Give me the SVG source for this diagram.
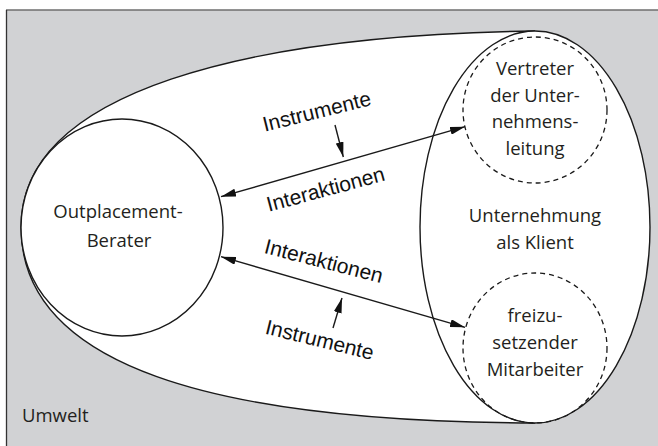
<svg xmlns="http://www.w3.org/2000/svg" width="658" height="446" viewBox="0 0 658 446">
<style>
.ln{fill:none;stroke:#1a1a1a;stroke-width:1.4}
.wf{fill:#ffffff;stroke:#1a1a1a;stroke-width:1.4}
.ds{fill:none;stroke:#1a1a1a;stroke-width:1.3;stroke-dasharray:5 4}
.nl{font-family:"Open Sans","Liberation Sans",sans-serif;font-size:18.5px;fill:#231f20;text-anchor:middle}
.al{font-family:"Liberation Sans",Arial,sans-serif;font-size:21px;fill:#111;text-anchor:middle}
</style>
<defs>
<marker id="ah" viewBox="0 0 15 8" refX="15" refY="4" markerWidth="15" markerHeight="8" markerUnits="userSpaceOnUse" orient="auto-start-reverse">
<path d="M0,0 L15,4 L0,8 z" fill="#111"/>
</marker>
</defs>
<rect x="0" y="0" width="658" height="446" fill="#ffffff"/>
<g id="umwelt">
<rect x="6" y="10" width="660" height="450" fill="#d1d2d4"/>
<line x1="6" y1="10" x2="658" y2="10" stroke="#6e6e6e" stroke-width="1.5"/>
<line x1="6.5" y1="10" x2="6.5" y2="446" stroke="#333" stroke-width="1.3"/>
<text x="22" y="422" class="nl" style="text-anchor:start">Umwelt</text>
</g>
<g id="envelope">
<path d="M535,31 C250,35 21,90 21,227 C21,365 210,422 535,423" class="wf"/>
</g>
<g id="unternehmung">
<ellipse cx="535" cy="227" rx="115" ry="196" class="wf"/>
<text class="nl"><tspan x="535" y="222">Unternehmung</tspan><tspan x="535" y="248.5">als Klient</tspan></text>
</g>
<g id="vertreter">
<ellipse cx="535" cy="110" rx="72" ry="73" class="ds"/>
<text class="nl"><tspan x="535" y="75">Vertreter</tspan><tspan x="535" y="101.7">der Unter-</tspan><tspan x="535" y="128.3">nehmens-</tspan><tspan x="535" y="155">leitung</tspan></text>
</g>
<g id="mitarbeiter">
<ellipse cx="535" cy="348" rx="72" ry="75" class="ds"/>
<text class="nl"><tspan x="535" y="321.7">freizu-</tspan><tspan x="535" y="348.5">setzender</tspan><tspan x="535" y="375.5">Mitarbeiter</tspan></text>
</g>
<g id="berater">
<ellipse cx="122" cy="227.5" rx="101" ry="108.5" class="wf"/>
<text class="nl"><tspan x="118" y="218">Outplacement-</tspan><tspan x="119" y="247">Berater</tspan></text>
</g>
<g id="connectors">
<line x1="221" y1="196.7" x2="465" y2="126.7" class="ln" marker-start="url(#ah)" marker-end="url(#ah)"/>
<line x1="221" y1="256.7" x2="465" y2="327.3" class="ln" marker-start="url(#ah)" marker-end="url(#ah)"/>
<line x1="335" y1="125" x2="343.3" y2="157" class="ln" marker-end="url(#ah)"/>
<line x1="333" y1="328" x2="342" y2="298" class="ln" marker-end="url(#ah)"/>
<text class="al" transform="translate(318.5,118.3) rotate(-14)">Instrumente</text>
<text class="al" transform="translate(327.5,196) rotate(-15)">Interaktionen</text>
<text class="al" transform="translate(322,268) rotate(14.5)">Interaktionen</text>
<text class="al" transform="translate(318,346.7) rotate(13.8)">Instrumente</text>
</g>
</svg>
